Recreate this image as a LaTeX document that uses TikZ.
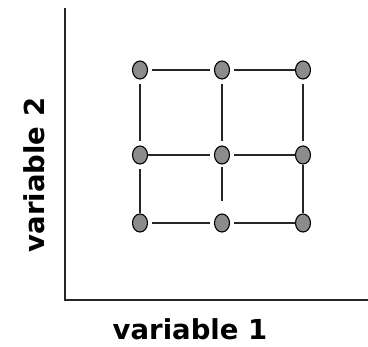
\documentclass[tikz,border=0pt]{standalone}
\usepackage{fontspec}
\setmainfont{DejaVu Sans}
\usetikzlibrary{shapes.geometric}
\begin{document}
\begin{tikzpicture}[x=1pt,y=-1pt,
  pt/.style={ellipse,draw=black,line width=1.1pt,fill=black!45,minimum width=15pt,minimum height=18pt,inner sep=0pt},
  edge/.style={line width=2pt,black!85},
  axis/.style={line width=2.2pt,black!85},
  lbl/.style={font=\fontsize{27.5}{30}\selectfont\bfseries,inner sep=0pt}]
\useasboundingbox (0,0) rectangle (368,347);
\coordinate (ytop) at (65,8);
\coordinate (orig) at (65,300);
\coordinate (xend) at (368,300);
\draw[axis] (ytop) -- (orig) -- (xend);
\node[pt] (tl) at (140,70) {};
\node[pt] (tm) at (222,70) {};
\node[pt] (tr) at (303,70) {};
\node[pt] (ml) at (140,155) {};
\node[pt] (mm) at (222,155) {};
\node[pt] (mr) at (303,155) {};
\node[pt] (bl) at (140,223) {};
\node[pt] (bm) at (222,223) {};
\node[pt] (br) at (303,223) {};
\draw[edge,shorten <=4pt,shorten >=4pt] (tl) -- (tm);
\draw[edge,shorten <=4pt] (tm) -- (tr);
\draw[edge,shorten <=4pt,shorten >=4pt] (tl) -- (ml);
\draw[edge,shorten <=4pt,shorten >=4pt] (tm) -- (mm);
\draw[edge,shorten <=4pt,shorten >=4pt] (tr) -- (mr);
\draw[edge,shorten >=4pt] (ml) -- (mm);
\draw[edge,shorten <=4pt] (mm) -- (mr);
\draw[edge,shorten <=4pt] (ml) -- (bl);
\draw[edge,shorten <=2pt,shorten >=12pt] (mm) -- (bm);
\draw[edge] (mr) -- (br);
\draw[edge,shorten <=4pt,shorten >=4pt] (bl) -- (bm);
\draw[edge,shorten <=4pt] (bm) -- (br);
\node[lbl,anchor=base] (xl) at (190,340) {variable 1};
\node[lbl,anchor=base,rotate=90] (yl) at (45,175) {variable 2};
\end{tikzpicture}
\end{document}
